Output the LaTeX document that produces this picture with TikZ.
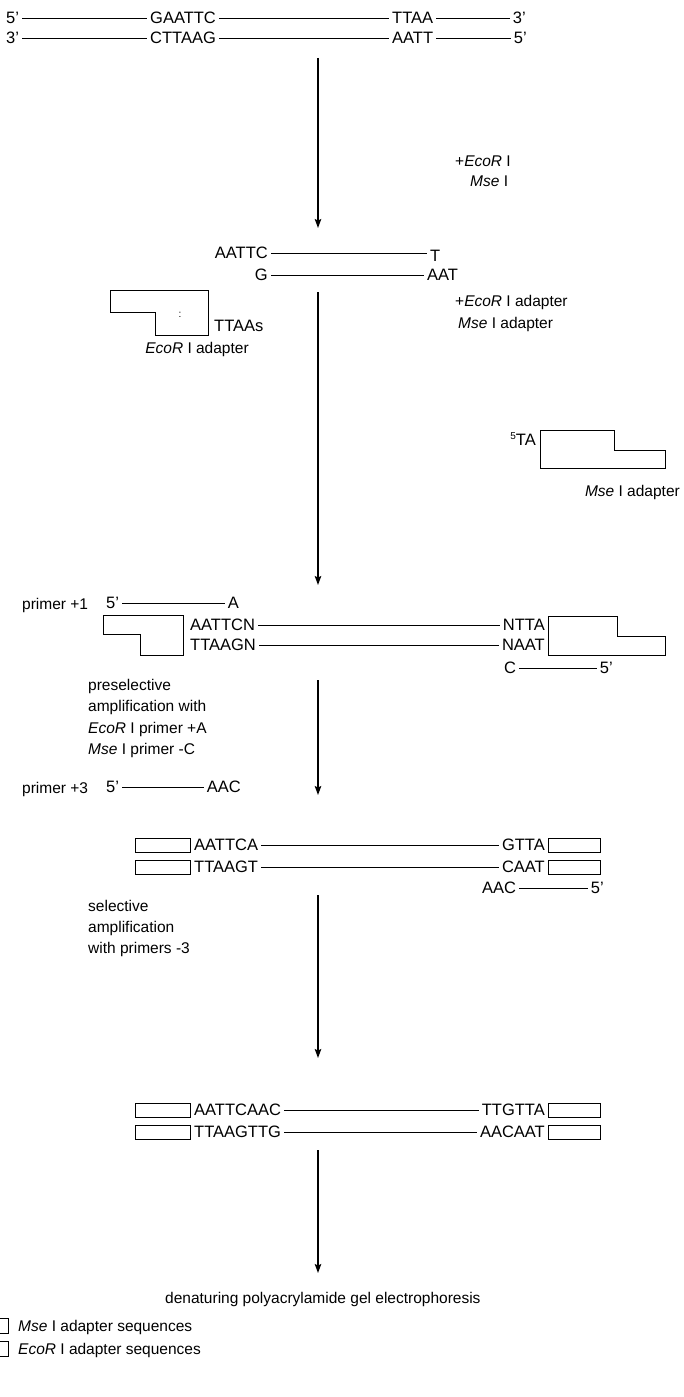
\documentclass[tikz,border=0pt]{standalone}
\usepackage{fontspec}
\setmainfont{Liberation Sans}
\usetikzlibrary{arrows.meta}
\begin{document}
\begin{tikzpicture}[x=1pt,y=-1pt,
  seq/.style={font=\fontsize{16.5}{18}\selectfont, inner sep=0pt, text height=11.8pt, text depth=0pt},
  lab/.style={font=\fontsize{15.5}{18}\selectfont, inner sep=0pt, anchor=base west},
  dna/.style={line width=0.9pt, shorten <=3pt, shorten >=3pt},
  flow/.style={line width=1.3pt, -{Stealth[length=9pt,width=6.5pt,inset=1.5pt]}},
  adp/.style={line width=0.9pt, line join=miter},
  ]
\useasboundingbox (0,0) rectangle (683,1397);
% ---- rows 1/2
\node[seq,anchor=west] (r1a) at (6,18) {5'};
\node[seq,anchor=west] (r1b) at (150,18) {GAATTC};
\node[seq,anchor=west] (r1c) at (392,18) {TTAA};
\node[seq,anchor=east] (r1d) at (526,18) {3'};
\draw[dna] (r1a) -- (r1b); \draw[dna] (r1b) -- (r1c); \draw[dna] (r1c) -- (r1d);
\node[seq,anchor=west] (r2a) at (6,38) {3'};
\node[seq,anchor=west] (r2b) at (150,38) {CTTAAG};
\node[seq,anchor=west] (r2c) at (392,38) {AATT};
\node[seq,anchor=east] (r2d) at (527,38) {5'};
\draw[dna] (r2a) -- (r2b); \draw[dna] (r2b) -- (r2c); \draw[dna] (r2c) -- (r2d);
% ---- arrow 1
\coordinate (a1s) at (318,58); \coordinate (a1e) at (318,228);
\draw[flow] (a1s) -- (a1e);
\node[lab] (l1a) at (455,166) {+\textit{EcoR} I};
\node[lab] (l1b) at (470,186) {\textit{Mse} I};
% ---- rows 3/4
\node[seq,anchor=east] (r3a) at (268,253) {AATTC};
\node[seq,anchor=west] (r3b) at (430,256) {T};
\draw[dna] (r3a.east) -- (r3a.east -| r3b.west);
\node[seq,anchor=east] (r4a) at (268,275) {G};
\node[seq,anchor=west] (r4b) at (427,275) {AAT};
\draw[dna] (r4a) -- (r4b);
% ---- arrow 2
\coordinate (a2s) at (318,292); \coordinate (a2e) at (318,585);
\draw[flow] (a2s) -- (a2e);
\node[lab] (l2a) at (455,306) {+\textit{EcoR} I adapter};
\node[lab] (l2b) at (458,328) {\textit{Mse} I adapter};
% EcoR I adapter
\draw[adp] (110,290) -- (208,290) -- (208,335) -- (155,335) -- (155,312) -- (110,312) -- cycle;
\node[seq,anchor=center,font=\fontsize{10}{10}\selectfont] (colon) at (180,312) {:};
\node[seq,anchor=west] (tt) at (214,326) {TTAAs};
\node[lab,anchor=base] (l3) at (197,353) {\textit{EcoR} I adapter};
% Mse I adapter
\node[seq,anchor=east] (ta) at (536,440) {\raisebox{6pt}{\fontsize{10}{10}\selectfont 5}TA};
\draw[adp] (540,430) -- (614,430) -- (614,450) -- (665,450) -- (665,468) -- (540,468) -- cycle;
\node[lab,anchor=base east] (l4) at (680,496) {\textit{Mse} I adapter};
% ---- primer +1 block
\node[lab] (p1) at (22,609) {primer +1};
\node[seq,anchor=west] (p1a) at (106,603) {5'};
\node[seq,anchor=east] (p1b) at (239,603) {A};
\draw[dna] (p1a) -- (p1b);
\node[seq,anchor=west] (r6a) at (190,625) {AATTCN};
\node[seq,anchor=east] (r6b) at (545,625) {NTTA};
\draw[dna] (r6a) -- (r6b);
\node[seq,anchor=west] (r7a) at (190,645) {TTAAGN};
\node[seq,anchor=east] (r7b) at (545,645) {NAAT};
\draw[dna] (r7a) -- (r7b);
\draw[adp] (103,615) -- (183,615) -- (183,655) -- (140,655) -- (140,634) -- (103,634) -- cycle;
\draw[adp] (548,616) -- (617,616) -- (617,636) -- (665,636) -- (665,655) -- (548,655) -- cycle;
\node[seq,anchor=west] (r8a) at (504,668) {C};
\node[seq,anchor=east] (r8b) at (613,668) {5'};
\draw[dna] (r8a) -- (r8b);
% ---- arrow 3
\coordinate (a3s) at (318,680); \coordinate (a3e) at (318,795);
\draw[flow] (a3s) -- (a3e);
\node[lab] (t1) at (88,690) {preselective};
\node[lab] (t2) at (88,711) {amplification with};
\node[lab] (t3) at (88,733) {\textit{EcoR} I primer +A};
\node[lab] (t4) at (88,754) {\textit{Mse} I primer -C};
% ---- primer +3 block
\node[lab] (p3) at (22,793) {primer +3};
\node[seq,anchor=west] (p3a) at (106,787) {5'};
\node[seq,anchor=east] (p3b) at (241,787) {AAC};
\draw[dna] (p3a) -- (p3b);
\node[seq,anchor=west] (r10a) at (194,845) {AATTCA};
\node[seq,anchor=east] (r10b) at (545,845) {GTTA};
\draw[dna] (r10a) -- (r10b);
\node[seq,anchor=west] (r11a) at (194,867) {TTAAGT};
\node[seq,anchor=east] (r11b) at (545,867) {CAAT};
\draw[dna] (r11a) -- (r11b);
\draw[adp] (135,838) rectangle (190,852);
\draw[adp] (135,860) rectangle (190,874);
\draw[adp] (548,838) rectangle (600,852);
\draw[adp] (548,860) rectangle (600,874);
\node[seq,anchor=west] (r12a) at (482,888) {AAC};
\node[seq,anchor=east] (r12b) at (604,888) {5'};
\draw[dna] (r12a) -- (r12b);
% ---- arrow 4
\coordinate (a4s) at (318,895); \coordinate (a4e) at (318,1058);
\draw[flow] (a4s) -- (a4e);
\node[lab] (s1) at (88,911) {selective};
\node[lab] (s2) at (88,932) {amplification};
\node[lab] (s3) at (88,953) {with primers -3};
% ---- rows 13/14
\node[seq,anchor=west] (r13a) at (194,1110) {AATTCAAC};
\node[seq,anchor=east] (r13b) at (545,1110) {TTGTTA};
\draw[dna] (r13a) -- (r13b);
\node[seq,anchor=west] (r14a) at (194,1132) {TTAAGTTG};
\node[seq,anchor=east] (r14b) at (545,1132) {AACAAT};
\draw[dna] (r14a) -- (r14b);
\draw[adp] (135,1103) rectangle (190,1117);
\draw[adp] (135,1125) rectangle (190,1139);
\draw[adp] (548,1103) rectangle (600,1117);
\draw[adp] (548,1125) rectangle (600,1139);
% ---- arrow 5
\coordinate (a5s) at (318,1150); \coordinate (a5e) at (318,1273);
\draw[flow] (a5s) -- (a5e);
\node[lab] (gel) at (165,1303) {denaturing polyacrylamide gel electrophoresis};
% ---- legend
\draw[adp] (-3,1318) rectangle (8,1333);
\node[lab] (k1) at (18,1331) {\textit{Mse} I adapter sequences};
\draw[adp] (-3,1341) rectangle (8,1356);
\node[lab] (k2) at (18,1354) {\textit{EcoR} I adapter sequences};
\end{tikzpicture}
\end{document}
